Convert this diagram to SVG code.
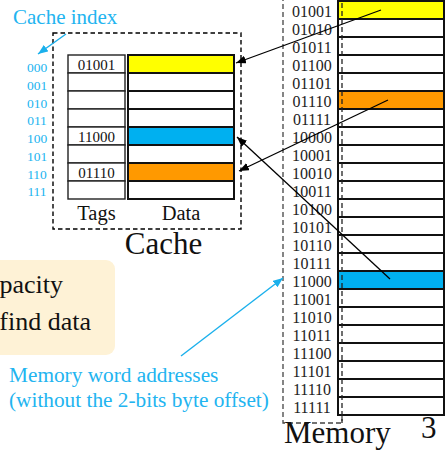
<svg xmlns="http://www.w3.org/2000/svg" width="446" height="451" viewBox="0 0 446 451" font-family="'Liberation Serif', 'DejaVu Serif', serif">
<defs>
<style>
text{fill:#111}
.idx{font-size:13.5px;fill:#22B4F0;text-anchor:middle}
.tag{font-size:15px;text-anchor:middle}
.mem{font-size:16px;text-anchor:middle;fill:#222}
.blue{fill:#22B4F0}
.tcell{fill:#fff;stroke:#222;stroke-width:1.4}
.dcell{fill:#fff;stroke:#111;stroke-width:2}
.mcell{fill:#fff;stroke:#111;stroke-width:2}
.arr{stroke:#000;stroke-width:1.3;fill:none;marker-end:url(#ah)}
.barr{stroke:#1AB0EC;stroke-width:1.4;fill:none;marker-end:url(#bh)}
</style>
<marker id="ah" markerUnits="userSpaceOnUse" markerWidth="10" markerHeight="8" refX="10" refY="4" orient="auto"><path d="M0,0 L10,4 L0,8 z" fill="#000"/></marker>
<marker id="bh" markerUnits="userSpaceOnUse" markerWidth="10" markerHeight="8" refX="10" refY="4" orient="auto"><path d="M0,0 L10,4 L0,8 z" fill="#1AB0EC"/></marker>
</defs>
<rect width="446" height="451" fill="#fff"/>

<g id="note">
<rect x="-20" y="260" width="135" height="95" rx="9" fill="#FEF2D6"/>
<text x="63" y="293" font-size="26" text-anchor="end">pacity</text>
<text x="91" y="330" font-size="26" text-anchor="end">find data</text>
</g>

<g id="memory">
<rect x="283" y="-5" width="59" height="428" fill="none" stroke="#444" stroke-width="1.3" stroke-dasharray="5,3"/>
<g id="mem-cells">
<rect class="mcell" x="338" y="1" width="106" height="18" style="fill:#FFFF00"/>
<rect class="mcell" x="338" y="19" width="106" height="18"/>
<rect class="mcell" x="338" y="37" width="106" height="18"/>
<rect class="mcell" x="338" y="55" width="106" height="18"/>
<rect class="mcell" x="338" y="73" width="106" height="18"/>
<rect class="mcell" x="338" y="91" width="106" height="18" style="fill:#FF9900"/>
<rect class="mcell" x="338" y="109" width="106" height="18"/>
<rect class="mcell" x="338" y="127" width="106" height="18"/>
<rect class="mcell" x="338" y="145" width="106" height="18"/>
<rect class="mcell" x="338" y="163" width="106" height="18"/>
<rect class="mcell" x="338" y="181" width="106" height="18"/>
<rect class="mcell" x="338" y="199" width="106" height="18"/>
<rect class="mcell" x="338" y="217" width="106" height="18"/>
<rect class="mcell" x="338" y="235" width="106" height="18"/>
<rect class="mcell" x="338" y="253" width="106" height="18"/>
<rect class="mcell" x="338" y="271" width="106" height="18" style="fill:#00B0F0"/>
<rect class="mcell" x="338" y="289" width="106" height="18"/>
<rect class="mcell" x="338" y="307" width="106" height="18"/>
<rect class="mcell" x="338" y="325" width="106" height="18"/>
<rect class="mcell" x="338" y="343" width="106" height="18"/>
<rect class="mcell" x="338" y="361" width="106" height="18"/>
<rect class="mcell" x="338" y="379" width="106" height="18"/>
<rect class="mcell" x="338" y="397" width="106" height="18"/>
</g>
<line x1="342" y1="-5" x2="342" y2="423" stroke="#222" stroke-width="1.3" stroke-dasharray="5,3"/>
<g id="mem-addr">
<text class="mem" x="312" y="17">01001</text>
<text class="mem" x="312" y="35">01010</text>
<text class="mem" x="312" y="53">01011</text>
<text class="mem" x="312" y="71">01100</text>
<text class="mem" x="312" y="89">01101</text>
<text class="mem" x="312" y="107">01110</text>
<text class="mem" x="312" y="125">01111</text>
<text class="mem" x="312" y="143">10000</text>
<text class="mem" x="312" y="161">10001</text>
<text class="mem" x="312" y="179">10010</text>
<text class="mem" x="312" y="197">10011</text>
<text class="mem" x="312" y="215">10100</text>
<text class="mem" x="312" y="233">10101</text>
<text class="mem" x="312" y="251">10110</text>
<text class="mem" x="312" y="269">10111</text>
<text class="mem" x="312" y="287">11000</text>
<text class="mem" x="312" y="305">11001</text>
<text class="mem" x="312" y="323">11010</text>
<text class="mem" x="312" y="341">11011</text>
<text class="mem" x="312" y="359">11100</text>
<text class="mem" x="312" y="377">11101</text>
<text class="mem" x="312" y="395">11110</text>
<text class="mem" x="312" y="413">11111</text>
</g>
<text x="284" y="443" font-size="31">Memory</text>
</g>

<g id="cache">
<rect x="53" y="33" width="188" height="196" fill="none" stroke="#000" stroke-width="1.4" stroke-dasharray="4.5,3"/>
<g id="tags">
<rect class="tcell" x="68" y="55" width="57" height="18"/>
<rect class="tcell" x="68" y="73" width="57" height="18"/>
<rect class="tcell" x="68" y="91" width="57" height="18"/>
<rect class="tcell" x="68" y="109" width="57" height="18"/>
<rect class="tcell" x="68" y="127" width="57" height="18"/>
<rect class="tcell" x="68" y="145" width="57" height="18"/>
<rect class="tcell" x="68" y="163" width="57" height="18"/>
<rect class="tcell" x="68" y="181" width="57" height="18"/>
<text class="tag" x="96.5" y="70">01001</text>
<text class="tag" x="96.5" y="142">11000</text>
<text class="tag" x="96.5" y="178">01110</text>
</g>
<g id="data">
<rect class="dcell" x="128" y="55" width="106" height="18" style="fill:#FFFF00"/>
<rect class="dcell" x="128" y="73" width="106" height="18"/>
<rect class="dcell" x="128" y="91" width="106" height="18"/>
<rect class="dcell" x="128" y="109" width="106" height="18"/>
<rect class="dcell" x="128" y="127" width="106" height="18" style="fill:#00B0F0"/>
<rect class="dcell" x="128" y="145" width="106" height="18"/>
<rect class="dcell" x="128" y="163" width="106" height="18" style="fill:#FF9900"/>
<rect class="dcell" x="128" y="181" width="106" height="18"/>
</g>
<text x="96.5" y="220" font-size="20.5" text-anchor="middle">Tags</text>
<text x="181" y="220" font-size="20.5" text-anchor="middle">Data</text>
<text x="163.5" y="254" font-size="31" text-anchor="middle">Cache</text>
</g>

<g id="index">
<text class="idx" x="37" y="72">000</text>
<text class="idx" x="37" y="90">001</text>
<text class="idx" x="37" y="107.5">010</text>
<text class="idx" x="37" y="125">011</text>
<text class="idx" x="37" y="143">100</text>
<text class="idx" x="37" y="161">101</text>
<text class="idx" x="37" y="178.5">110</text>
<text class="idx" x="37" y="196">111</text>
<text class="blue" x="13" y="24" font-size="21">Cache index</text>
</g>

<g id="labels">
<text class="blue" x="9" y="382" font-size="21.3">Memory word addresses</text>
<text class="blue" x="9" y="407" font-size="21.3">(without the 2-bits byte offset)</text>
<text x="421" y="438" font-size="31">3</text>
</g>

<g id="connectors">
<line class="arr" x1="381" y1="10" x2="236" y2="63"/>
<line class="arr" x1="388" y1="100" x2="239" y2="171"/>
<line class="arr" x1="390" y1="279" x2="237" y2="137"/>
<line class="barr" x1="66" y1="34" x2="38" y2="54"/>
<line class="barr" x1="181" y1="356" x2="283" y2="278"/>
</g>
</svg>
